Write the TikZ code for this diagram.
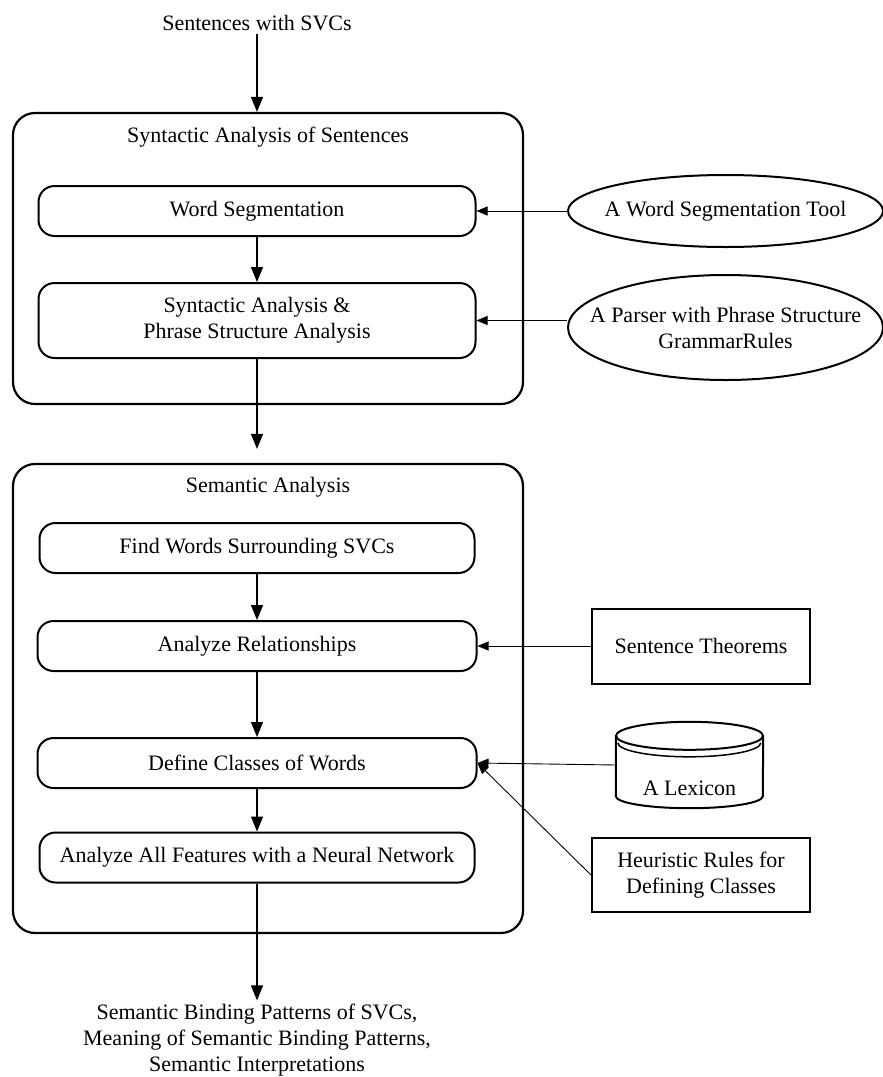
\documentclass[tikz,border=0pt]{standalone}
\usepackage{fontspec}
\setmainfont{Liberation Serif}
\usetikzlibrary{positioning, arrows.meta, calc, shapes.geometric}

\begin{document}
\begin{tikzpicture}[
  x=1pt, y=-1pt,
  every node/.style={font=\fontsize{22}{26}\selectfont},
  phase/.style    = {draw, line width=2.2pt, rounded corners=22pt, minimum width=510pt, inner sep=0pt},
  stepbox/.style  = {draw, line width=2pt, rounded corners=16pt, align=center, minimum width=437pt, minimum height=50pt, inner sep=0pt},
  tool/.style     = {draw, ellipse, line width=2pt, minimum width=315pt, inner sep=0pt},
  resource/.style = {draw, line width=2pt, align=center, minimum width=218pt, inner sep=0pt},
  arr/.style      = {-{Triangle[length=15pt,width=12pt]}, line width=1.3pt},
  feed/.style     = {-{Triangle[length=11pt,width=9pt]}, line width=0.9pt},
]
  \fill[white] (0,0) rectangle (883,1077);
  \useasboundingbox (0,0) rectangle (883,1077);

  % the two analysis phases
  \node[phase, minimum height=291pt] (syn) at (268,258.5) {};
  \node (syntitle) at (268,137) {Syntactic Analysis of Sentences};
  \node[phase, minimum height=469pt] (sem) at (268,698.5) {};
  \node (semtitle) at (268,487) {Semantic Analysis};

  \node (input) at (257,23) {Sentences with SVCs};
  \node[stepbox]                     (seg)   at (257,211)   {Word Segmentation};
  \node[stepbox, minimum height=75pt] (parse) at (257,320.5) {Syntactic Analysis \&\\Phrase Structure Analysis};
  \node[stepbox, minimum width=435pt] (find)  at (257,548)   {Find Words Surrounding SVCs};
  \node[stepbox, minimum width=439pt] (rel)   at (257,646)   {Analyze Relationships};
  \node[stepbox, minimum width=439pt] (def)   at (257,763)   {Define Classes of Words};
  \node[stepbox, minimum width=435pt] (feat)  at (257,857.5) {Analyze All Features with a Neural Network};
  \node[align=center] (output) at (257,1040) {Semantic Binding Patterns of SVCs,\\Meaning of Semantic Binding Patterns,\\Semantic Interpretations};

  % outside tools and resources
  \node[tool, minimum height=72pt, label={center:A Word Segmentation Tool}] (segtool) at (725.5,211) {};
  \node[tool, minimum height=105pt, label={[align=center]center:A Parser with Phrase Structure\\GrammarRules}] (parser) at (725.5,327.5) {};
  \node[resource, minimum height=75pt] (theorem) at (701,646) {Sentence Theorems};
  \node[minimum width=147pt, minimum height=86pt, inner sep=0pt, label={[yshift=-23pt]center:A Lexicon}] (lexicon) at (689.5,765) {};
  \draw[line width=2pt] ($(lexicon.north)+(0,14)$) ellipse [x radius=73.5, y radius=14];
  \draw[line width=2pt] ($(lexicon.north west)+(0,14)$) -- ($(lexicon.south west)+(0,-12)$)
    arc[start angle=180, end angle=0, x radius=73.5, y radius=12] -- ($(lexicon.north east)+(0,14)$);
  \draw[line width=1.5pt] ($(lexicon.north west)+(2,21)$) arc[start angle=180, end angle=0, x radius=71.5, y radius=14];
  \node[resource, minimum height=74pt] (heur) at (701,875) {Heuristic Rules for\\Defining Classes};

  % main flow
  \draw[arr] (input.south) -- (input.south |- syn.north);
  \draw[arr] (seg) -- (parse);
  \draw[arr, shorten >=14pt] (parse.south) -- (parse.south |- sem.north);
  \foreach \a/\b in {find/rel, rel/def, def/feat, feat/output}
    \draw[arr] (\a) -- (\b);

  % inputs from the right
  \draw[feed] (segtool.west) -- (seg.east);
  \draw[feed] (parse.east -| parser.west) -- (parse.east);
  \draw[feed] (theorem.west) -- (rel.east);
  \draw[feed] (lexicon.west) -- (def.east);
  \draw[feed] (heur.west) -- (def.east);
\end{tikzpicture}
\end{document}
